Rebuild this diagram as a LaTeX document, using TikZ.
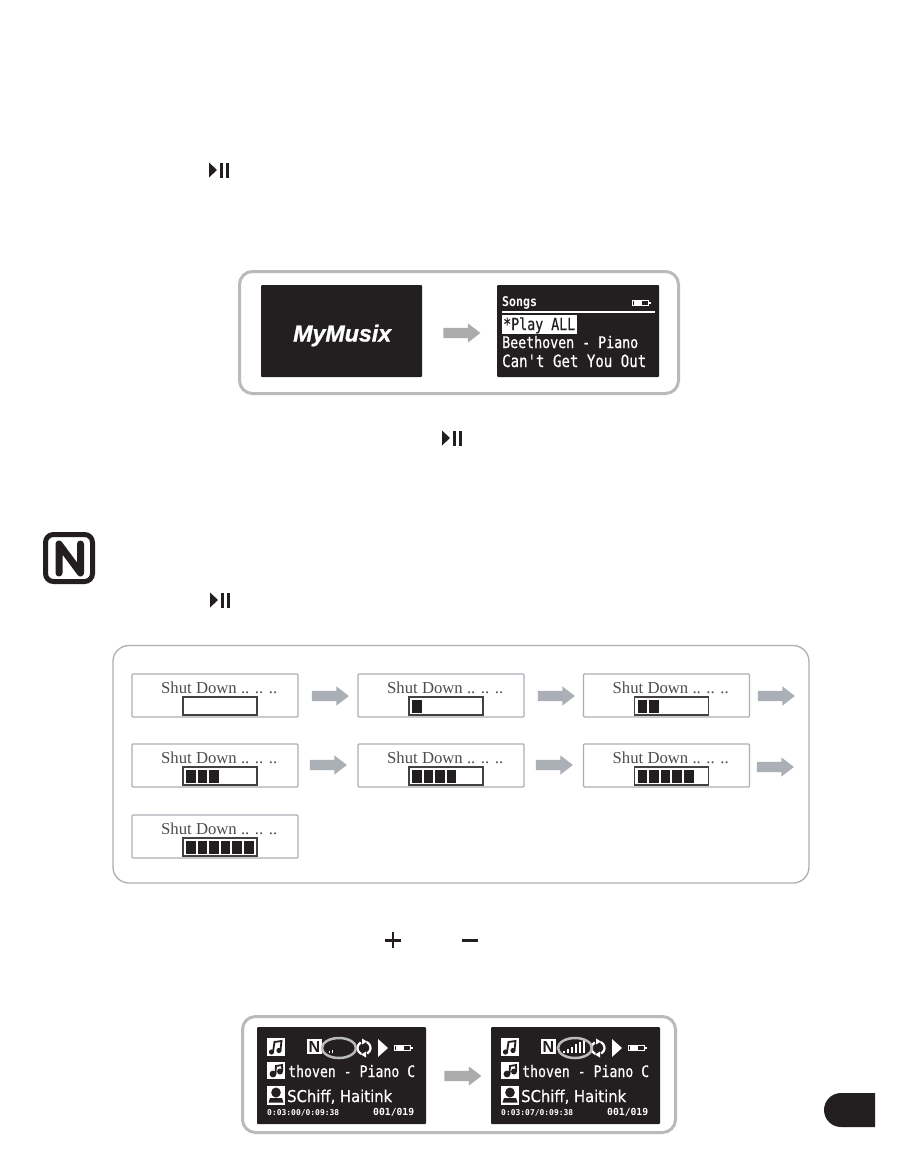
\documentclass[tikz,border=0pt]{standalone}
\usepackage{fontspec}
\usepackage{graphicx}
\usetikzlibrary{shapes.arrows}
\setmainfont{Liberation Serif}
\newfontfamily\lcd[FakeBold=0.6]{DejaVu Sans Mono}
\newfontfamily\lcdb{DejaVu Sans Mono}
\newfontfamily\lcdsans[FakeBold=0.5]{DejaVu Sans}
\newfontfamily\logo{Liberation Sans}
\newfontfamily\logoheavy[UprightFont={* Bold Italic},UprightFeatures={FakeBold=1.2}]{Liberation Sans}
\definecolor{ink}{HTML}{231F20}
\definecolor{framegray}{HTML}{B9BABB}
\definecolor{arrowgray}{HTML}{ABABAB}
\definecolor{bluegray}{HTML}{ABAFB6}
\definecolor{shuttext}{HTML}{4C4D52}
\newcommand{\fitw}[2]{\resizebox{#1pt}{!}{#2}}
\newcommand{\tall}[2]{\scalebox{1}[#1]{#2}}
\newcommand{\shaft}{\rule{0pt}{10pt}}
\tikzset{
  frame/.style={draw=framegray,line width=3pt,rounded corners=13pt,fill=white},
  softframe/.style={draw=bluegray,line width=1.3pt,rounded corners=16pt,fill=white},
  lcdscreen/.style={fill=ink,rounded corners=1pt},
  lcdtext/.style={anchor=base west,inner sep=0pt,text=white},
  blockarrow/.style={single arrow,inner sep=0pt,minimum height=37pt,single arrow head extend=4.5pt,single arrow tip angle=75},
  shutlabel/.style={anchor=base west,inner sep=0pt,text=shuttext}
}
\newcommand{\playicon}[2]{%
  \fill[ink] (#1,#2-7.5) -- (#1+8,#2) -- (#1,#2+7.5) -- cycle;
  \fill[ink] (#1+11,#2-7.5) rectangle (#1+13.5,#2+7.5);
  \fill[ink] (#1+17,#2-7.5) rectangle (#1+19.5,#2+7.5);
}
\newcommand{\battery}[2]{%
  \draw[white,line width=1pt] (#1,#2) rectangle (#1+15.5,#2+5.5);
  \fill[white] (#1+15.5,#2+1.5) rectangle (#1+18,#2+4);
  \fill[white] (#1+1.5,#2+1) rectangle (#1+9,#2+4.5);
}
% name, left x, top y, number of filled cells
\newcommand{\shutbox}[4]{%
  \ifnum#4=6 \def\barw{2pt}\else\def\barw{1.2pt}\fi
  \begin{scope}[shift={(#2,#3)}]
    \draw[bluegray,line width=1.2pt,rounded corners=1pt,fill=white] (0,0) rectangle (166,43);
    \node[shutlabel] (#1) at (29,19) {\fitw{116}{\fontsize{16}{16}\selectfont Shut Down .. .. ..}};
    \draw[ink!85,line width=\barw,fill=white] (51,23) rectangle (125,41);
    \ifnum#4>0
      \foreach \c in {1,...,#4} {
        \fill[ink] ({42.4+11.6*\c},26) rectangle ({52+11.6*\c},38.5);
      }
    \fi
  \end{scope}
}
% name prefix, x offset, ellipse centre x, time string, bars
\newcommand{\playscreen}[5]{%
  \begin{scope}[shift={(#2,0)}]
    \fill[lcdscreen] (257,1027) rectangle (426,1124);
    % music icon
    \fill[white] (267,1038) rectangle (285,1056);
    \draw[ink,line width=1.8pt] (273,1052) -- (274.5,1042) -- (281.5,1041) -- (280.5,1050);
    \fill[ink] (271.5,1052) circle (2.6pt);
    \fill[ink] (279,1050.5) circle (2.6pt);
    % N icon
    \fill[white] (307,1039) rectangle (322,1054);
    \node[anchor=center,inner sep=0pt,text=ink] (#1N) at (314.5,1046.5) {\logo\bfseries\fontsize{16}{16}\selectfont N};
    % signal
    #5
    % repeat icon
    \draw[white,line width=2.2pt] (364,1048) ++(115:6.5) arc[start angle=115,end angle=240,radius=6.5];
    \draw[white,line width=2.2pt] (364,1048) ++(295:6.5) arc[start angle=295,end angle=420,radius=6.5];
    \fill[white] (362,1038.5) -- (367,1041.5) -- (362,1044.5) -- cycle;
    \fill[white] (366,1051.5) -- (361,1054.5) -- (366,1057.5) -- cycle;
    % play
    \fill[white] (378,1039) -- (388,1048) -- (378,1057) -- cycle;
    \battery{394.5}{1045}
    % second line
    \fill[white] (267,1062) rectangle (285,1079);
    \fill[ink] (273,1074) circle (3.4pt);
    \fill[ink] (280,1071.5) circle (3pt);
    \draw[ink,line width=1.8pt] (275.5,1074) -- (276,1066) -- (282,1065) -- (282.3,1071);
    \node[lcdtext] (#1song) at (288,1077) {\fitw{127}{\tall{1.2}{\lcd\fontsize{13}{13}\selectfont thoven - Piano C}}};
    % third line
    \fill[white] (267,1086) rectangle (285,1105);
    \fill[ink] (276,1092.5) ellipse (4.8pt and 5pt);
    \fill[ink] (268.5,1102.5) -- (270,1098) -- (282,1098) -- (283.5,1102.5) -- cycle;
    \node[lcdtext] (#1artist) at (287,1102) {\fitw{105}{\tall{1.1}{\lcdsans\fontsize{14}{14}\selectfont SChiff, Haitink}}};
    \node[lcdtext] (#1time) at (267,1115) {\fitw{72}{\lcdb\bfseries\fontsize{8}{8}\selectfont #4}};
    \node[lcdtext] (#1track) at (373,1115) {\fitw{41}{\lcdb\bfseries\fontsize{8}{8}\selectfont 001/019}};
    \draw[framegray,line width=2.5pt] (#3,1048) ellipse (17pt and 10pt);
  \end{scope}
}
\begin{document}
\begin{tikzpicture}[x=1pt,y=-1pt]
\useasboundingbox[fill=white] (0,0) rectangle (918,1154);

% play/pause icons in the text
\playicon{209}{170}
\playicon{442}{438}
\playicon{210}{600}

% first frame
\draw[frame] (239.5,271.5) rectangle (678.5,393.5);
\fill[lcdscreen] (261,285) rectangle (422,377);
\node[anchor=base west,inner sep=0pt,text=white] (logo) at (293,341.5) {\fitw{98}{\logoheavy\fontsize{20}{20}\selectfont MyMusix}};
\fill[lcdscreen] (497,285) rectangle (659,377);
\node[lcdtext] (songs) at (502,306.5) {\fitw{35}{\tall{1.15}{\lcdb\bfseries\fontsize{10}{10}\selectfont Songs}}};
\battery{632.5}{300}
\fill[white] (502,311) rectangle (655,313);
\fill[white] (502,315) rectangle (577,334);
\node[lcdtext,text=ink] (playall) at (503,330) {\fitw{72}{\tall{1.25}{\lcd\fontsize{13}{13}\selectfont *Play ALL}}};
\node[lcdtext] (beethoven) at (502,348) {\fitw{136}{\tall{1.2}{\lcd\fontsize{13}{13}\selectfont Beethoven - Piano}}};
\node[lcdtext] (cant) at (502,367) {\fitw{144}{\tall{1.2}{\lcd\fontsize{13}{13}\selectfont Can't Get You Out}}};
\node[blockarrow,fill=arrowgray] (a1) at (458.5,333) {\shaft};

% note icon
\draw[ink,line width=5pt,rounded corners=8pt] (45.5,534.5) rectangle (92.5,581.5);
\draw[ink,line width=7pt,line cap=round,line join=round] (59,573) -- (59,544) -- (80.5,573) -- (80.5,544);

% shutdown panel
\draw[softframe] (113,645.5) rectangle (809,883);
\shutbox{s0}{132}{674}{0}
\shutbox{s1}{358}{674}{1}
\shutbox{s2}{583.5}{674}{2}
\shutbox{s3}{132}{744}{3}
\shutbox{s4}{358}{744}{4}
\shutbox{s5}{583.5}{744}{5}
\shutbox{s6}{132}{815}{6}
\node[blockarrow,fill=bluegray] (b1) at (327,696) {\shaft};
\node[blockarrow,fill=bluegray] (b2) at (553,696) {\shaft};
\node[blockarrow,fill=bluegray] (b3) at (773,696) {\shaft};
\node[blockarrow,fill=bluegray] (b4) at (325,765) {\shaft};
\node[blockarrow,fill=bluegray] (b5) at (551,765) {\shaft};
\node[blockarrow,fill=bluegray] (b6) at (772,767) {\shaft};

% plus and minus
\fill[ink] (385,939) rectangle (401,941.5);
\fill[ink] (391.8,932) rectangle (394.2,948);
\fill[ink] (462,939) rectangle (478,941.5);

% last frame
\draw[frame] (242.5,1016.5) rectangle (675.5,1132.5);
\playscreen{l}{0}{339}{0:03:00/0:09:38}{%
  \fill[white] (329,1051) rectangle (330,1053);
  \fill[white] (331.5,1049.5) rectangle (332.5,1053);
}
\playscreen{r}{234}{341}{0:03:07/0:09:38}{%
  \foreach \i in {0,...,5} {
    \fill[white] ({329+3.9*\i},{1051-2.2*\i}) rectangle ({331.2+3.9*\i},1053);
  }
}
\node[blockarrow,fill=arrowgray] (a2) at (459.5,1076) {\shaft};

% page badge
\fill[ink] (875,1093) -- (841,1093) arc[start angle=-90,end angle=-270,radius=17] -- (875,1127) -- cycle;
\end{tikzpicture}
\end{document}
